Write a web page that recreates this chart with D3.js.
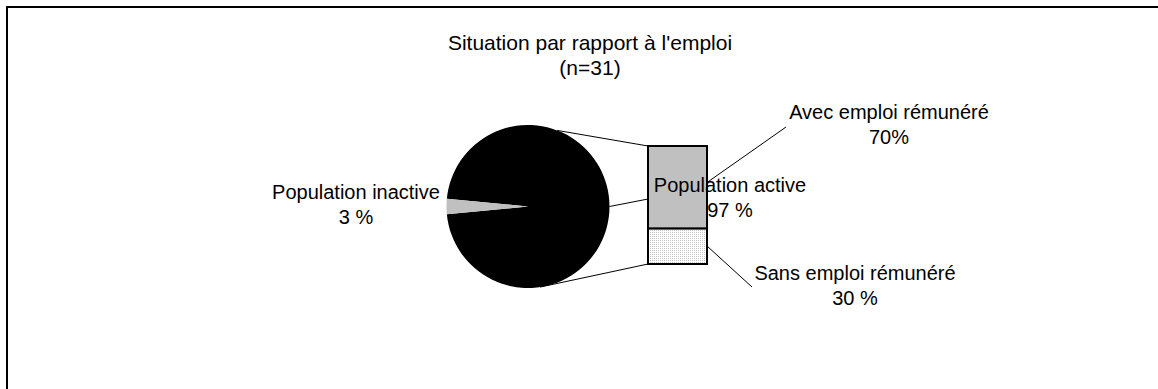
<!DOCTYPE html>
<html>
<head>
<meta charset="utf-8">
<script src="https://cdn.jsdelivr.net/npm/d3@7"></script>
<style>
  body { margin: 0; background: #fff; }
  svg text { font-family: "Liberation Sans", Arial, sans-serif; fill: #000; }
</style>
</head>
<body>
<svg class="chart"></svg>
<script>
// data
const title = ["Situation par rapport à l'emploi", "(n=31)"];
const pieLabels = ["Population active", "Population inactive"];
const pieValues = [97, 3];
const pieValueText = ["97 %", "3 %"];
const barLabels = ["Avec emploi rémunéré", "Sans emploi rémunéré"];
const barValues = [70, 30];
const barValueText = ["70%", "30 %"];

const svgWidth = 1158;
const svgHeight = 389;
const fontSize = 20;

const pieCenter = {x: 528, y: 206.5};
const radius = 81.5;
const bar = {x: 648, width: 59, top: 146, bottom: 264};

const svg = d3.select(".chart")
    .attr("width", svgWidth)
    .attr("height", svgHeight);

// dotted fill for the lower bar segment
const defs = svg.append("defs");
const pat = defs.append("pattern")
    .attr("id", "dots")
    .attr("width", 2)
    .attr("height", 2)
    .attr("patternUnits", "userSpaceOnUse");
pat.append("rect").attr("width", 2).attr("height", 2).attr("fill", "#fff");
pat.append("rect").attr("width", 1).attr("height", 1).attr("fill", "#c4c4c4");

// frame (left and top only)
svg.append("path")
    .attr("d", `M7,${svgHeight} V7 H${svgWidth}`)
    .attr("fill", "none")
    .attr("stroke", "#000")
    .attr("stroke-width", 2);

// title
svg.append("text")
    .attr("x", 590)
    .attr("y", 50)
    .attr("text-anchor", "middle")
    .style("font-size", "21px")
    .selectAll("tspan")
    .data(title)
    .join("tspan")
    .attr("x", 590)
    .attr("dy", (d, i) => i ? 25 : 0)
    .text(d => d);

// pie: small slice centred on the left side
const share = pieValues[1] / d3.sum(pieValues);
const start = 1.5 * Math.PI + share * Math.PI;
const pie = d3.pie().sort(null).startAngle(start).endAngle(start + 2 * Math.PI);
const arc = d3.arc().innerRadius(0).outerRadius(radius);
const pieColors = ["#000", "#c0c0c0"];

const pieG = svg.append("g")
    .attr("transform", `translate(${pieCenter.x},${pieCenter.y})`);
pieG.selectAll("path")
    .data(pie(pieValues))
    .join("path")
    .attr("d", arc)
    .attr("fill", (d, i) => pieColors[i])
    .attr("stroke", "none");

// point on the pie rim at a d3 angle (0 = 12 o'clock, clockwise)
function rim(deg) {
    const a = deg * Math.PI / 180;
    return [pieCenter.x + radius * Math.sin(a), pieCenter.y - radius * Math.cos(a)];
}

// stacked bar of the active population
const y = d3.scaleLinear()
    .domain([0, d3.sum(barValues)])
    .range([bar.top, bar.bottom]);
const stacked = d3.cumsum([0].concat(barValues));
const barFills = ["#c0c0c0", "url(#dots)"];

svg.append("g")
    .selectAll("rect")
    .data(barValues)
    .join("rect")
    .attr("x", bar.x)
    .attr("y", (d, i) => y(stacked[i]))
    .attr("width", bar.width)
    .attr("height", d => y(d) - y(0))
    .attr("fill", (d, i) => barFills[i])
    .attr("stroke", "#000")
    .attr("stroke-width", 2);

// connector lines pie -> bar
const lines = [
    [rim(21), [bar.x, y(0)]],
    [rim(171.5), [bar.x, y(d3.sum(barValues))]],
    [rim(90), [bar.x, 199]],
    [[bar.x + bar.width, 182.5], [786, 127]],
    [[bar.x + bar.width, 246], [752, 287]]
];
svg.append("g")
    .selectAll("line")
    .data(lines)
    .join("line")
    .attr("x1", d => d[0][0])
    .attr("y1", d => d[0][1])
    .attr("x2", d => d[1][0])
    .attr("y2", d => d[1][1])
    .attr("stroke", "#000")
    .attr("stroke-width", 1);

// labels
const labels = [
    {lines: [pieLabels[1], pieValueText[1]], x: 356, y: 199},
    {lines: [pieLabels[0], pieValueText[0]], x: 730, y: 192},
    {lines: [barLabels[0], barValueText[0]], x: 889, y: 119},
    {lines: [barLabels[1], barValueText[1]], x: 855, y: 280}
];
svg.append("g")
    .selectAll("text")
    .data(labels)
    .join("text")
    .attr("text-anchor", "middle")
    .style("font-size", fontSize + "px")
    .each(function(d) {
        d3.select(this).selectAll("tspan")
            .data(d.lines)
            .join("tspan")
            .attr("x", d.x)
            .attr("y", (t, i) => d.y + i * 25)
            .text(t => t);
    });
</script>
</body>
</html>
